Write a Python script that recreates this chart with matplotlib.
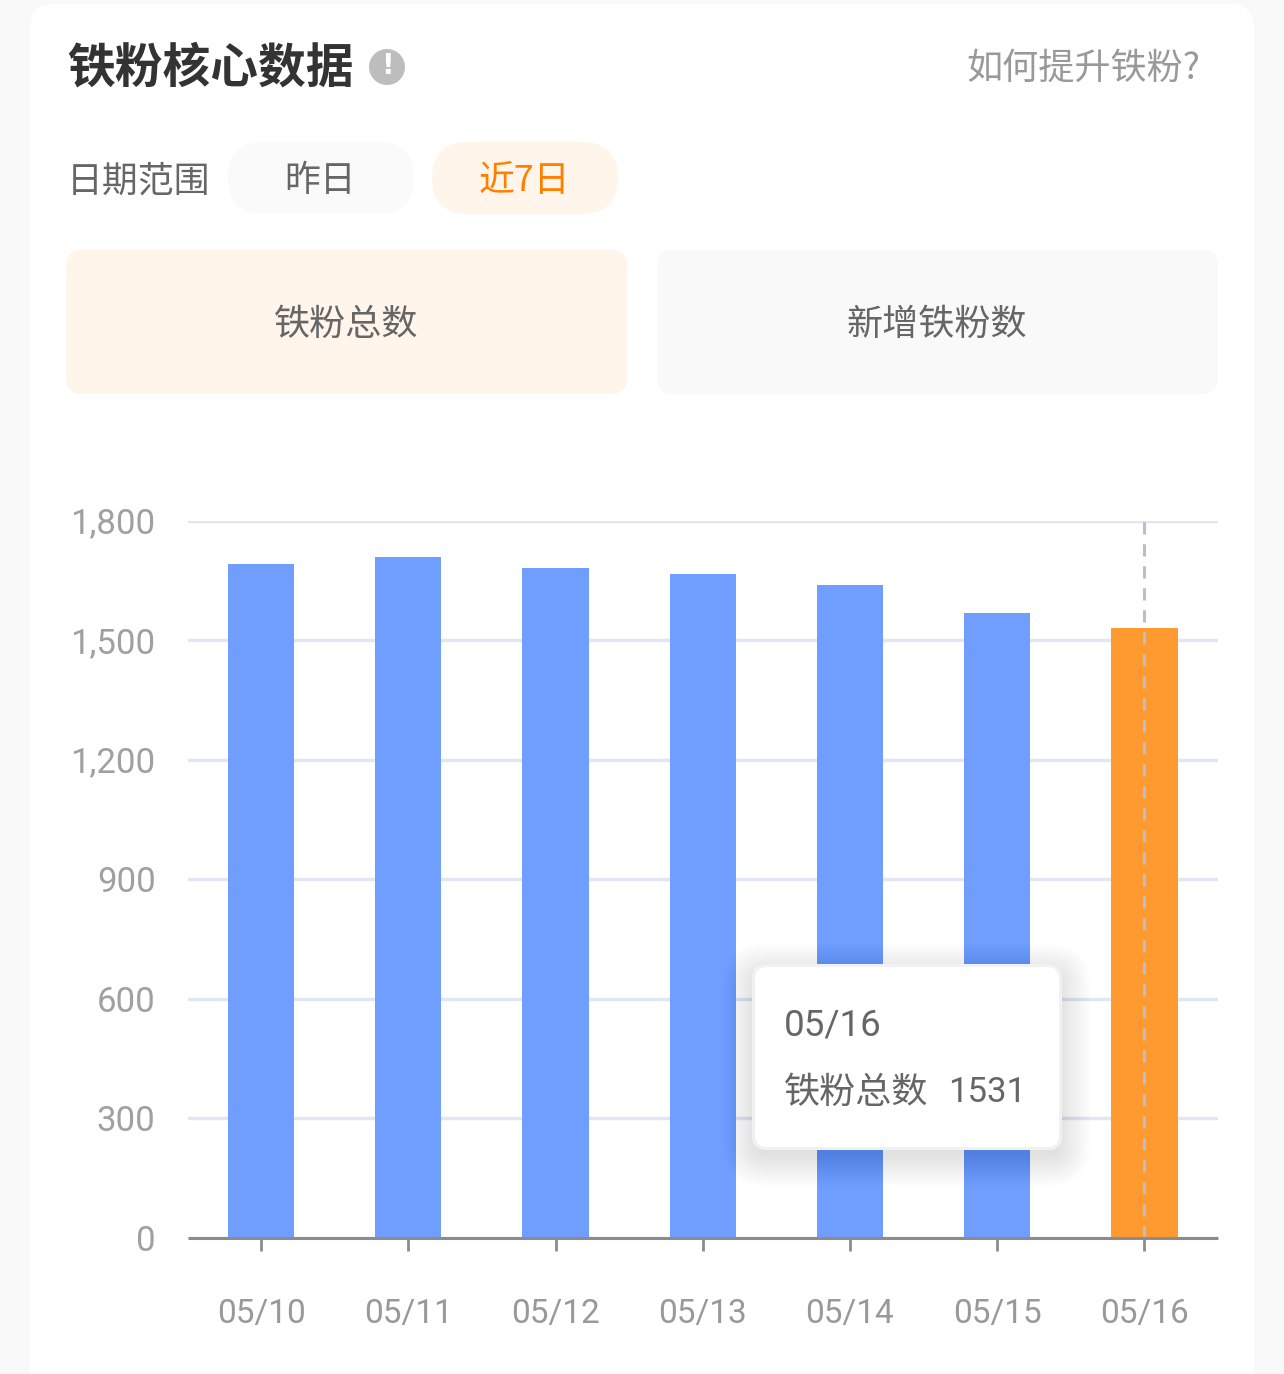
import matplotlib
matplotlib.use("Agg")
import matplotlib.pyplot as plt
from matplotlib.patches import FancyBboxPatch, Circle

plt.rcParams['font.family'] = ['Noto Sans CJK SC', 'DejaVu Sans']

W, H = 1284, 1374
dates = ['05/10', '05/11', '05/12', '05/13', '05/14', '05/15', '05/16']
values = [1690, 1708, 1680, 1666, 1638, 1567, 1531]
yticks = [0, 300, 600, 900, 1200, 1500, 1800]
ylabels = ['0', '300', '600', '900', '1,200', '1,500', '1,800']
highlight = '05/16'
BLUE, ORANGE = '#6F9EFF', '#FF9A30'
NUM_FONT = ['Roboto', 'DejaVu Sans']

fig = plt.figure(figsize=(W / 100, H / 100), dpi=100, facecolor='#F9F9F9')

# UI layer in pixel coordinates
bg = fig.add_axes([0, 0, 1, 1], zorder=0)
bg.set_xlim(0, W); bg.set_ylim(H, 0); bg.axis('off')
top = fig.add_axes([0, 0, 1, 1], zorder=3)
top.set_xlim(0, W); top.set_ylim(H, 0); top.axis('off'); top.patch.set_alpha(0)


def rrect(ax, x0, y0, x1, y1, r, color, **kw):
    p = FancyBboxPatch((x0 + r, y0 + r), x1 - x0 - 2 * r, y1 - y0 - 2 * r,
                       boxstyle=f'round,pad={r},rounding_size={r}',
                       fc=color, ec='none', **kw)
    ax.add_patch(p)
    return p


rrect(bg, 30, 4, 1254, 1440, 24, 'white')
bg.text(67, 68, '铁粉核心数据', fontsize=34.4, fontweight='bold', color='#333333', va='center', ha='left')
bg.add_patch(Circle((387, 67), 18, fc='#BDBDBD', ec='none'))
bg.text(387, 66, '!', fontsize=20, fontweight='bold', color='white', ha='center', va='center', family='DejaVu Sans')
bg.text(1200, 69, '如何提升铁粉?', fontsize=26, color='#999999', ha='right', va='center')

bg.text(67, 181, '日期范围', fontsize=25.8, color='#666666', ha='left', va='center')
rrect(bg, 228, 142, 414, 214, 36, '#FAFAFA')
bg.text(320, 181, '昨日', fontsize=25.8, color='#666666', ha='center', va='center')
rrect(bg, 432, 142, 618, 214, 36, '#FFF5EB')
bg.text(524, 181, '近7日', fontsize=25.8, color='#FF8000', ha='center', va='center')

rrect(bg, 66, 250, 627, 394, 16, '#FFF5EB')
bg.text(346, 325, '铁粉总数', fontsize=26, color='#666666', ha='center', va='center')
rrect(bg, 657, 250, 1218, 394, 16, '#F9F9F9')
bg.text(937, 325, '新增铁粉数', fontsize=26, color='#666666', ha='center', va='center')

# Chart
ax_l, ax_r, ax_t, ax_b = 187.5, 1218, 520.5, 1238
ax = fig.add_axes([ax_l / W, 1 - ax_b / H, (ax_r - ax_l) / W, (ax_b - ax_t) / H], zorder=1)
ax.patch.set_alpha(0)
xs = list(range(len(dates)))
colors = [ORANGE if d == highlight else BLUE for d in dates]
ax.bar(xs, values, width=0.45, color=colors, zorder=3)
ax.set_xlim(-0.5, len(dates) - 0.5)
ax.set_ylim(0, yticks[-1])
ax.set_yticks(yticks, ylabels)
ax.set_xticks(xs, dates)
ax.yaxis.grid(True, color='#E1E6F3', lw=2.5, zorder=1)
ax.set_axisbelow(True)
for s in ['top', 'right', 'left']:
    ax.spines[s].set_visible(False)
ax.spines['bottom'].set_color('#8C8C8C')
ax.spines['bottom'].set_linewidth(2.2)
ax.spines['bottom'].set_zorder(5)
ax.spines['bottom'].set_capstyle('butt')
ax.tick_params(axis='y', length=0, pad=23, labelsize=25, labelcolor='#A0A0A0')
ax.tick_params(axis='x', length=9, width=2, color='#8C8C8C', pad=34, labelsize=24, labelcolor='#999999')
for t in ax.get_xticklabels() + ax.get_yticklabels():
    t.set_family(NUM_FONT)
ax.axvline(dates.index(highlight), color='#B9BECB', lw=2.2, dashes=(4, 3.2), zorder=4, clip_on=False)

# Tooltip with soft shadow
for i in range(30):
    g = 32 - i * 1.1
    rrect(top, 755 - g, 967 - g + 8, 1059 + g, 1147 + g + 8, 12 + g, 'black', alpha=0.0048)
rrect(top, 752, 964, 1062, 1150, 14, '#F1F1F1')
rrect(top, 755, 967, 1059, 1147, 12, 'white')
idx = dates.index(highlight)
top.text(784, 1025, dates[idx], fontsize=26.5, color='#666666', ha='left', va='center', family=NUM_FONT)
top.text(784, 1093, '铁粉总数', fontsize=26, color='#666666', ha='left', va='center')
top.text(1026, 1092, str(values[idx]), fontsize=25, color='#666666', ha='right', va='center', family=NUM_FONT)

fig.savefig('out.png', dpi=100, facecolor=fig.get_facecolor())
